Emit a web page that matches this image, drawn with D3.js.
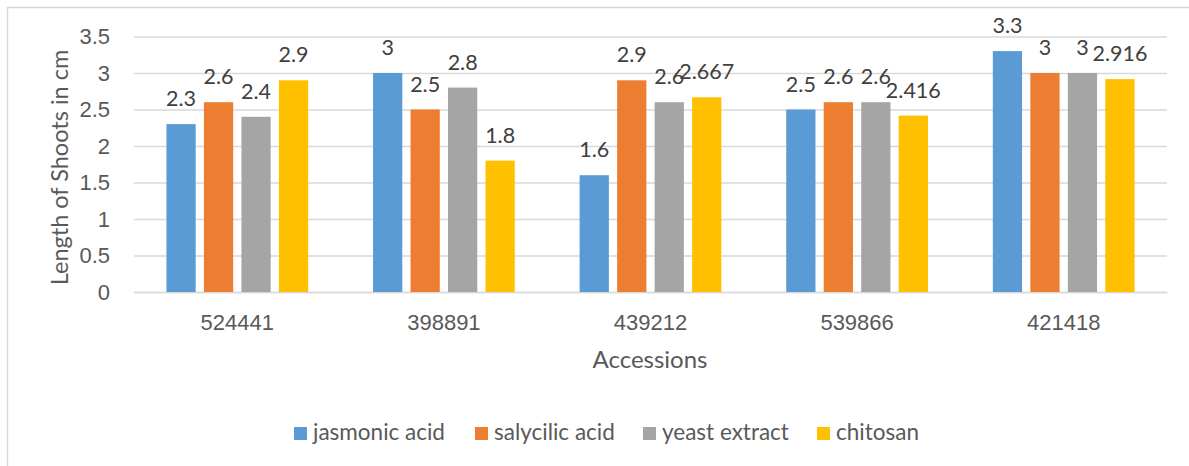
<!DOCTYPE html>
<html>
<head>
<meta charset="utf-8">
<script src="https://cdn.jsdelivr.net/npm/d3@7"></script>
<style>
  html, body { margin: 0; padding: 0; background: #fff; }
  svg { display: block; font-family: Lato, "Open Sans", sans-serif; }
</style>
</head>
<body>
<svg id="chart" width="1189" height="466"></svg>
<script>
// Shoot length (cm) per accession and elicitor treatment
const accessions = ["524441", "398891", "439212", "539866", "421418"];
const seriesNames = ["jasmonic acid", "salycilic acid", "yeast extract", "chitosan"];
const jasmonicAcid = [2.3, 3, 1.6, 2.5, 3.3];
const salycilicAcid = [2.6, 2.5, 2.9, 2.6, 3];
const yeastExtract = [2.4, 2.8, 2.6, 2.6, 3];
const chitosan = [2.9, 1.8, 2.667, 2.416, 2.916];
const yTickValues = [0, 0.5, 1, 1.5, 2, 2.5, 3, 3.5];
const yTickLabels = ["0", "0.5", "1", "1.5", "2", "2.5", "3", "3.5"];
const colors = ["#5B9BD5", "#ED7D31", "#A5A5A5", "#FFC000"];

const seriesValues = [jasmonicAcid, salycilicAcid, yeastExtract, chitosan];

const svg = d3.select("#chart");
const W = 1189, H = 466;
const plot = { left: 134, right: 1167, top: 36.5, bottom: 292 };

// outer frame
svg.append("rect")
  .attr("x", 7.5).attr("y", 7.5)
  .attr("width", W + 20).attr("height", H + 20)
  .attr("fill", "#fff").attr("stroke", "#d9d9d9").attr("stroke-width", 1.5);

const y = d3.scaleLinear().domain([0, 3.5]).range([plot.bottom, plot.top]);
const x0 = d3.scaleBand().domain(accessions).range([plot.left, plot.right]).padding(0);
const x1 = d3.scaleBand().domain(seriesNames).range([0, x0.bandwidth()])
  .paddingInner(0.22).paddingOuter(0.865);
const color = d3.scaleOrdinal().domain(seriesNames).range(colors);

// gridlines and value axis labels
const yAxis = d3.axisLeft(y)
  .tickValues(yTickValues)
  .tickFormat((d, i) => yTickLabels[i])
  .tickSize(-(plot.right - plot.left))
  .tickPadding(24);
const gy = svg.append("g")
  .attr("transform", `translate(${plot.left},0)`)
  .call(yAxis);
gy.select(".domain").remove();
gy.selectAll(".tick line").attr("stroke", "#d9d9d9").attr("stroke-width", 1.5);
gy.selectAll(".tick text")
  .attr("fill", "#595959").attr("font-size", 22);

// category axis
const xAxis = d3.axisBottom(x0).tickSize(0).tickPadding(22);
const gx = svg.append("g")
  .attr("transform", `translate(0,${plot.bottom})`)
  .call(xAxis);
gx.select(".domain").attr("stroke", "#d9d9d9").attr("stroke-width", 1.5);
gx.selectAll(".tick text").attr("fill", "#595959").attr("font-size", 22);

// bars
const rows = accessions.map((a, i) => ({
  accession: a,
  items: seriesNames.map((s, j) => ({ series: s, value: seriesValues[j][i] }))
}));

const groups = svg.append("g").selectAll("g")
  .data(rows).join("g")
  .attr("transform", d => `translate(${x0(d.accession)},0)`);

groups.selectAll("rect")
  .data(d => d.items).join("rect")
  .attr("x", d => x1(d.series))
  .attr("width", x1.bandwidth())
  .attr("y", d => y(d.value))
  .attr("height", d => y(0) - y(d.value))
  .attr("fill", d => color(d.series));

// value labels
groups.selectAll("text.val")
  .data(d => d.items).join("text")
  .attr("class", "val")
  .attr("x", d => x1(d.series) + x1.bandwidth() / 2)
  .attr("y", d => y(d.value) - 18)
  .attr("text-anchor", "middle")
  .attr("font-size", 21.5)
  .attr("fill", "#404040")
  .text(d => String(d.value));

// axis titles
svg.append("text")
  .attr("transform", `translate(68,167.5) rotate(-90)`)
  .attr("text-anchor", "middle")
  .attr("font-size", 23.5)
  .attr("fill", "#595959")
  .text("Length of Shoots in cm");

svg.append("text")
  .attr("x", 650).attr("y", 368)
  .attr("text-anchor", "middle")
  .attr("font-size", 24)
  .attr("fill", "#595959")
  .text("Accessions");

// legend
const legendX = [294, 475, 643, 817];
const legend = svg.append("g").selectAll("g")
  .data(seriesNames).join("g")
  .attr("transform", (d, i) => `translate(${legendX[i]},427)`);
legend.append("rect")
  .attr("width", 13).attr("height", 13)
  .attr("fill", d => color(d));
legend.append("text")
  .attr("x", 19).attr("y", 13)
  .attr("font-size", 22.5)
  .attr("fill", "#595959")
  .text(d => d);
</script>
</body>
</html>
